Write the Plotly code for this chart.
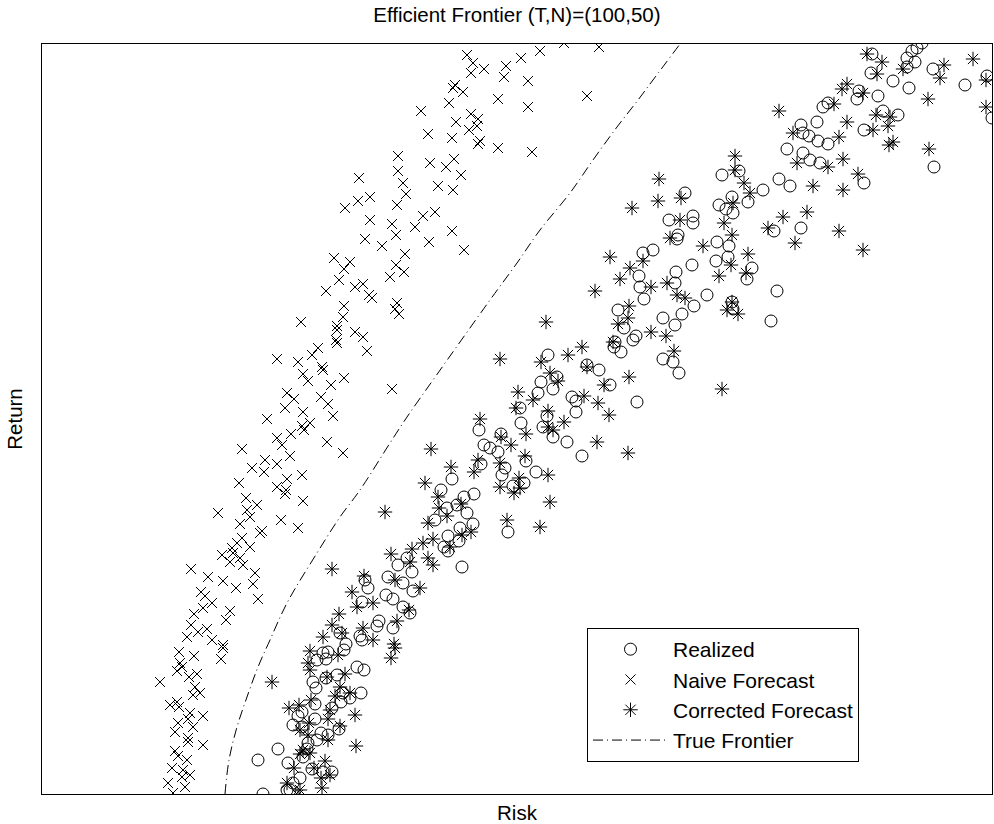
import plotly.graph_objects as go

# ---------------- data (risk, return) ----------------
realized_pts = [
    (0.922,0.801),(0.917,0.796),(0.912,0.793),(0.907,0.786),(0.915,0.782),(0.907,0.777),
    (0.872,0.790),(0.871,0.771),(0.893,0.763),(0.909,0.756),(0.933,0.775),(0.965,0.759),
    (0.987,0.768),(0.859,0.753),(0.857,0.745),(0.878,0.748),(0.883,0.733),(0.898,0.729),
    (0.864,0.714),(0.828,0.741),(0.823,0.737),(0.817,0.722),(0.801,0.719),(0.803,0.711),
    (0.809,0.708),(0.818,0.703),(0.828,0.700),(0.787,0.695),(0.803,0.691),(0.810,0.684),
    (0.820,0.681),(0.779,0.665),(0.790,0.658),(0.763,0.654),(0.864,0.661),(0.934,0.677),
    (0.801,0.616),(0.774,0.613),(0.992,0.726),
    (0.722,0.669),(0.739,0.673),(0.732,0.647),(0.719,0.639),(0.726,0.635),(0.733,0.631),
    (0.748,0.642),(0.685,0.651),(0.693,0.628),(0.693,0.621),(0.669,0.624),(0.678,0.609),
    (0.677,0.605),(0.643,0.591),(0.653,0.594),(0.717,0.602),(0.729,0.598),(0.728,0.587),
    (0.716,0.583),(0.752,0.576),(0.747,0.565),(0.692,0.579),(0.676,0.572),(0.675,0.561),
    (0.639,0.568),(0.640,0.557),(0.644,0.545),(0.707,0.549),(0.694,0.538),(0.682,0.530),
    (0.675,0.519),(0.663,0.526),(0.732,0.542),(0.733,0.535),(0.777,0.553),(0.771,0.523),
    (0.618,0.534),(0.624,0.516),(0.636,0.508),(0.633,0.504),(0.615,0.502),(0.614,0.497),
    (0.621,0.492),(0.663,0.485),(0.673,0.482),(0.679,0.471),(0.599,0.474),(0.587,0.479),
    (0.610,0.459),(0.637,0.442),
    (0.548,0.489),(0.557,0.467),(0.541,0.462),(0.553,0.455),(0.538,0.451),(0.572,0.447),
    (0.576,0.443),(0.576,0.432),(0.520,0.436),(0.547,0.428),(0.543,0.417),(0.553,0.407),
    (0.567,0.402),(0.521,0.421),(0.582,0.388),(0.479,0.414),(0.501,0.410),(0.484,0.399),
    (0.490,0.396),(0.498,0.392),(0.481,0.380),(0.505,0.376),(0.502,0.369),(0.526,0.383),
    (0.536,0.372),(0.524,0.361),(0.513,0.358),(0.452,0.365),(0.441,0.354),(0.474,0.350),
    (0.464,0.347),(0.457,0.339),(0.467,0.331),(0.447,0.336),(0.435,0.324),(0.473,0.320),
    (0.460,0.316),(0.448,0.308),(0.459,0.303),(0.444,0.297),(0.448,0.293),(0.508,0.312),
    (0.462,0.277),
    (0.407,0.286),(0.398,0.279),(0.412,0.272),(0.388,0.267),(0.403,0.261),(0.413,0.253),
    (0.365,0.264),(0.368,0.256),(0.386,0.249),(0.393,0.245),(0.362,0.242),(0.403,0.237),
    (0.410,0.231),(0.379,0.223),(0.377,0.218),(0.393,0.216),(0.360,0.208),(0.362,0.204),
    (0.346,0.200),(0.340,0.211),(0.344,0.194),(0.328,0.192),(0.326,0.185),(0.323,0.191),
    (0.317,0.184),(0.337,0.169),(0.326,0.166),(0.313,0.162),(0.316,0.156),(0.357,0.177),
    (0.364,0.174),(0.361,0.151),(0.343,0.151),(0.341,0.142),(0.350,0.146),(0.332,0.136),
    (0.315,0.140),(0.302,0.132),(0.315,0.125),(0.298,0.128),(0.293,0.119),(0.302,0.117),
    (0.321,0.111),(0.328,0.109),(0.317,0.104),(0.339,0.115),(0.308,0.101),(0.307,0.095),
    (0.303,0.087),(0.288,0.081),(0.278,0.095),(0.258,0.084),(0.312,0.075),(0.323,0.072),
    (0.332,0.072),(0.300,0.066),(0.293,0.061),(0.287,0.054),(0.263,0.050),(0.290,0.054),
]

naive_pts = [
    (0.467,0.789),(0.473,0.781),(0.471,0.771),(0.484,0.775),(0.506,0.778),(0.521,0.786),
    (0.540,0.793),(0.564,0.801),(0.599,0.797),(0.504,0.767),(0.528,0.763),(0.587,0.748),
    (0.455,0.759),(0.453,0.756),(0.463,0.752),(0.449,0.741),(0.498,0.745),(0.528,0.737),
    (0.421,0.733),(0.471,0.730),(0.478,0.725),(0.456,0.722),(0.477,0.718),(0.469,0.714),
    (0.428,0.710),(0.452,0.706),(0.480,0.703),(0.478,0.700),(0.498,0.696),(0.532,0.692),
    (0.398,0.688),(0.430,0.681),(0.454,0.685),(0.446,0.677),(0.461,0.669),(0.398,0.673),
    (0.403,0.661),(0.406,0.650),(0.359,0.666),(0.438,0.658),(0.453,0.654),(0.345,0.636),
    (0.358,0.643),(0.370,0.647),(0.397,0.639),(0.370,0.624),(0.423,0.628),(0.435,0.632),
    (0.392,0.620),(0.415,0.617),(0.396,0.609),(0.452,0.613),(0.365,0.605),(0.382,0.598),
    (0.429,0.602),(0.464,0.594),(0.334,0.586),(0.350,0.582),(0.344,0.575),(0.405,0.590),
    (0.396,0.579),(0.404,0.572),(0.390,0.567),(0.339,0.564),(0.326,0.553),(0.355,0.557),
    (0.363,0.560),(0.369,0.549),(0.372,0.546),(0.397,0.541),(0.395,0.535),(0.399,0.530),
    (0.344,0.538),(0.343,0.527),(0.301,0.522),(0.337,0.518),(0.337,0.514),(0.355,0.512),
    (0.363,0.507),(0.336,0.504),(0.337,0.501),(0.367,0.493),(0.318,0.496),(0.312,0.489),
    (0.277,0.485),(0.298,0.482),(0.322,0.477),(0.323,0.474),(0.303,0.470),(0.308,0.463),
    (0.344,0.466),(0.331,0.459),(0.392,0.455),(0.287,0.451),(0.294,0.445),(0.321,0.447),
    (0.328,0.440),(0.285,0.436),(0.303,0.432),(0.333,0.428),(0.267,0.425),(0.310,0.421),
    (0.302,0.418),(0.304,0.414),(0.291,0.410),(0.277,0.406),(0.282,0.399),(0.327,0.402),
    (0.343,0.391),(0.242,0.395),(0.290,0.388),(0.265,0.384),(0.252,0.376),(0.264,0.372),
    (0.277,0.380),(0.239,0.361),(0.287,0.365),(0.302,0.369),(0.277,0.357),(0.286,0.354),
    (0.285,0.350),(0.246,0.346),(0.257,0.339),(0.303,0.343),(0.247,0.334),(0.250,0.327),
    (0.218,0.331),(0.240,0.320),(0.281,0.324),(0.298,0.316),(0.260,0.311),(0.262,0.313),
    (0.242,0.306),(0.237,0.301),(0.250,0.297),(0.232,0.296),(0.222,0.289),(0.233,0.291),
    (0.240,0.286),(0.230,0.282),(0.243,0.279),(0.191,0.275),(0.208,0.267),(0.223,0.263),
    (0.236,0.256),(0.255,0.271),(0.253,0.260),(0.258,0.245),(0.201,0.252),(0.205,0.248),
    (0.212,0.241),(0.203,0.236),(0.194,0.230),(0.230,0.233),(0.226,0.224),(0.191,0.219),
    (0.198,0.212),(0.187,0.207),(0.207,0.215),(0.212,0.204),(0.223,0.199),(0.223,0.196),
    (0.221,0.185),(0.179,0.192),(0.194,0.188),(0.180,0.181),(0.182,0.177),(0.177,0.173),
    (0.189,0.167),(0.197,0.170),(0.160,0.162),(0.195,0.157),(0.193,0.149),(0.200,0.151),
    (0.170,0.139),(0.177,0.142),(0.179,0.137),(0.190,0.131),(0.203,0.128),(0.188,0.125),
    (0.193,0.117),(0.178,0.121),(0.175,0.112),(0.188,0.106),(0.188,0.102),(0.203,0.099),
    (0.175,0.093),(0.178,0.088),(0.187,0.084),(0.172,0.076),(0.183,0.074),(0.190,0.069),
    (0.182,0.067),(0.168,0.061),(0.185,0.057),(0.173,0.051),
]

corrected_pts = [
    (0.867,0.790),(0.882,0.782),(0.877,0.770),(0.903,0.775),(0.944,0.779),(0.973,0.785),
    (0.940,0.766),(0.986,0.764),(0.847,0.760),(0.842,0.755),(0.863,0.751),(0.834,0.740),
    (0.928,0.745),(0.986,0.737),(0.779,0.733),(0.876,0.729),(0.890,0.727),(0.888,0.718),
    (0.873,0.714),(0.847,0.722),(0.839,0.707),(0.793,0.711),(0.893,0.702),(0.889,0.699),
    (0.929,0.695),(0.843,0.685),(0.797,0.681),(0.828,0.677),(0.858,0.670),(0.813,0.658),
    (0.843,0.654),(0.807,0.632),(0.783,0.627),(0.768,0.616),(0.795,0.601),(0.839,0.613),
    (0.863,0.594),
    (0.735,0.688),(0.735,0.674),(0.744,0.661),(0.750,0.651),(0.733,0.641),(0.659,0.665),
    (0.658,0.643),(0.681,0.646),(0.632,0.636),(0.680,0.624),(0.670,0.606),(0.724,0.621),
    (0.732,0.609),(0.703,0.598),(0.748,0.590),(0.731,0.579),(0.746,0.571),(0.719,0.568),
    (0.610,0.587),(0.630,0.576),(0.643,0.583),(0.620,0.565),(0.595,0.553),(0.651,0.557),
    (0.667,0.561),(0.677,0.549),(0.685,0.546),(0.629,0.538),(0.628,0.526),(0.618,0.520),
    (0.613,0.502),(0.651,0.512),(0.666,0.508),(0.674,0.493),(0.732,0.542),(0.727,0.534),
    (0.738,0.530),(0.582,0.497),(0.587,0.477),(0.629,0.467),(0.604,0.459),(0.722,0.455),
    (0.584,0.448),(0.546,0.522),
    (0.500,0.485),(0.541,0.482),(0.568,0.489),(0.550,0.471),(0.558,0.463),(0.518,0.452),
    (0.533,0.444),(0.598,0.441),(0.609,0.429),(0.516,0.436),(0.548,0.433),(0.564,0.422),
    (0.548,0.417),(0.553,0.414),(0.526,0.410),(0.480,0.425),(0.501,0.407),(0.511,0.399),
    (0.597,0.402),(0.628,0.391),(0.525,0.388),(0.478,0.384),(0.451,0.377),(0.474,0.372),
    (0.500,0.381),(0.548,0.369),(0.500,0.357),(0.519,0.366),(0.514,0.351),(0.520,0.356),
    (0.550,0.342),(0.507,0.324),(0.540,0.317),(0.431,0.395),(0.425,0.361),(0.438,0.347),
    (0.461,0.340),(0.439,0.336),(0.447,0.328),(0.428,0.321),(0.433,0.305),(0.423,0.301),
    (0.462,0.309),(0.471,0.312),(0.450,0.297),(0.412,0.295),(0.391,0.290),(0.410,0.282),
    (0.428,0.286),(0.433,0.279),(0.385,0.332),
    (0.332,0.275),(0.364,0.268),(0.395,0.264),(0.420,0.256),(0.352,0.252),(0.357,0.237),
    (0.373,0.241),(0.409,0.234),(0.397,0.223),(0.339,0.230),(0.332,0.219),(0.342,0.211),
    (0.323,0.207),(0.363,0.216),(0.373,0.204),(0.394,0.200),(0.395,0.196),(0.391,0.186),
    (0.310,0.193),(0.308,0.181),(0.310,0.174),(0.338,0.189),(0.345,0.170),(0.327,0.167),
    (0.340,0.157),(0.335,0.148),(0.350,0.151),(0.272,0.162),(0.311,0.144),(0.299,0.139),
    (0.289,0.136),(0.330,0.134),(0.355,0.129),(0.328,0.125),(0.309,0.121),(0.340,0.118),
    (0.300,0.114),(0.308,0.109),(0.328,0.104),(0.356,0.098),(0.303,0.094),(0.310,0.091),
    (0.300,0.090),(0.325,0.083),(0.294,0.076),(0.314,0.076),(0.321,0.066),(0.330,0.069),
    (0.322,0.056),(0.287,0.061),(0.300,0.054),(0.298,0.049),
]

frontier_risk = [0.225, 0.229, 0.237, 0.247, 0.258, 0.270, 0.287, 0.317, 0.340, 0.360, 0.390,
                 0.407, 0.438, 0.490, 0.517, 0.540, 0.570, 0.593, 0.617, 0.638, 0.653, 0.680]
frontier_return = [0.050, 0.084, 0.117, 0.147, 0.177, 0.204, 0.241, 0.291, 0.327, 0.354, 0.401,
                   0.427, 0.471, 0.544, 0.581, 0.614, 0.651, 0.684, 0.717, 0.744, 0.764, 0.800]

title_text = "Efficient Frontier (T,N)=(100,50)"
x_label = "Risk"
y_label = "Return"

FONT = "Liberation Sans, Arial, sans-serif"
TXT = 20.5


def split(pts):
    return [p[0] for p in pts], [p[1] for p in pts]


fig = go.Figure()

rx, ry = split(realized_pts)
fig.add_trace(go.Scatter(
    x=rx, y=ry, mode="markers", name="Realized", legendgroup="a",
    marker=dict(symbol="circle-open", size=12, color="black", line=dict(width=1, color="black")),
))
nx, ny = split(naive_pts)
fig.add_trace(go.Scatter(
    x=nx, y=ny, mode="markers", name="Naive Forecast", legendgroup="b",
    marker=dict(symbol="x-thin-open", size=10, color="black", line=dict(width=1, color="black")),
))
cx, cy = split(corrected_pts)
fig.add_trace(go.Scatter(
    x=cx, y=cy, mode="markers", name="Corrected Forecast", legendgroup="c",
    marker=dict(symbol="asterisk-open", size=12, color="black", line=dict(width=1, color="black")),
))
fig.add_trace(go.Scatter(
    x=frontier_risk, y=frontier_return, mode="lines", name="True Frontier", legendgroup="d",
    line=dict(color="black", width=1, dash="10px,4px,1px,4px", shape="spline"),
))

axis_common = dict(
    showgrid=False, zeroline=False, showticklabels=False, ticks="",
    showline=True, linecolor="black", linewidth=1, mirror=True,
)

fig.update_layout(
    width=994, height=824,
    paper_bgcolor="white", plot_bgcolor="white",
    margin=dict(l=42, r=2, t=44, b=30),
    font=dict(family=FONT, size=TXT, color="black"),
    title=dict(text=title_text, x=0.52, xanchor="center", y=1 - 15 / 824, yanchor="middle",
               yref="container", font=dict(family=FONT, size=TXT, color="black")),
    xaxis=dict(range=[0.042, 0.992], title=dict(text=x_label, standoff=11,
               font=dict(family=FONT, size=TXT)), automargin=False, **axis_common),
    yaxis=dict(range=[0.050, 0.800], title=dict(text=y_label, standoff=12,
               font=dict(family=FONT, size=TXT)), automargin=False, **axis_common),
    legend=dict(
        x=0.5737, y=0.2213, xanchor="left", yanchor="top",
        bgcolor="white", bordercolor="black", borderwidth=1,
        font=dict(family=FONT, size=21, color="black"),
        itemwidth=75, tracegroupgap=0, traceorder="grouped",
    ),
    showlegend=True,
)

fig.write_html(
    "out.html",
    config={"displayModeBar": False},
    post_script="document.body.style.margin='0';document.body.style.padding='0';"
                "document.documentElement.style.overflow='hidden';",
)
